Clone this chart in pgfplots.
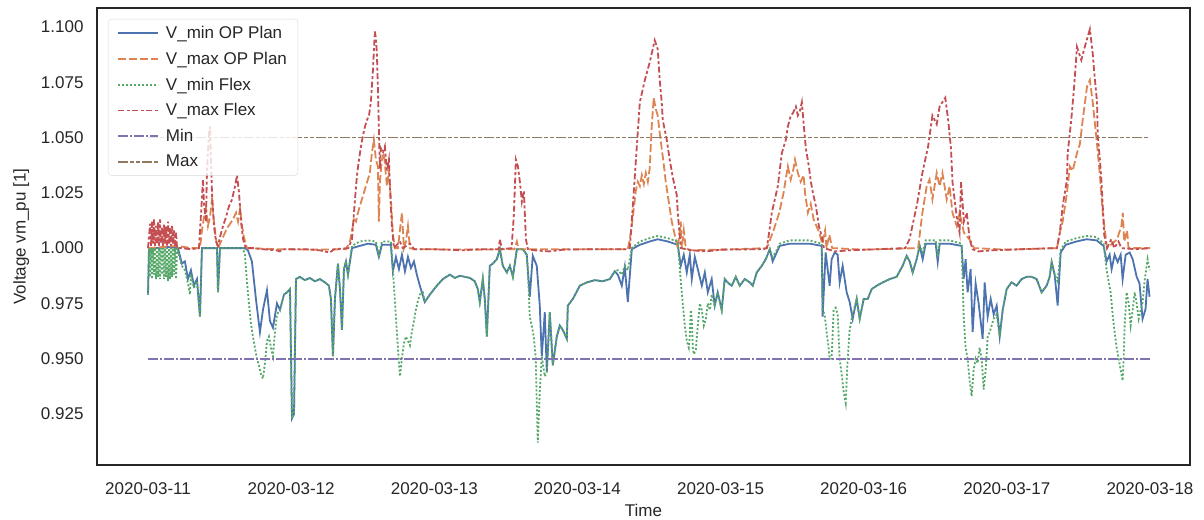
\documentclass[border=0pt]{standalone}
\usepackage{fontspec}
\setmainfont{Liberation Sans}
\usepackage{pgfplots}
\usepackage{pgfplotstable}
\pgfplotsset{compat=1.18}
\definecolor{sbblue}{HTML}{4C72B0}
\definecolor{sborange}{HTML}{DD8452}
\definecolor{sbgreen}{HTML}{55A868}
\definecolor{sbred}{HTML}{C44E52}
\definecolor{sbpurple}{HTML}{8172B3}
\definecolor{sbbrown}{HTML}{937860}
\definecolor{txt}{HTML}{262626}

\pgfplotstableread{
x y
0.000 0.979
0.007 1.000
0.070 1.000
0.140 1.0005
0.209 1.000
0.237 0.993
0.258 0.994
0.279 0.986
0.300 0.990
0.321 0.983
0.342 0.986
0.363 0.969
0.377 1.000
0.482 1.000
0.489 0.980
0.503 1.000
0.677 1.000
0.698 0.999
0.726 0.994
0.754 0.977
0.782 0.962
0.803 0.972
0.831 0.981
0.852 0.967
0.873 0.964
0.901 0.975
0.922 0.972
0.950 0.979
0.971 0.980
0.992 0.9815
1.006 0.923
1.020 0.925
1.034 0.986
1.061 0.987
1.096 0.9855
1.131 0.9865
1.166 0.985
1.201 0.986
1.236 0.9845
1.264 0.983
1.278 0.977
1.292 0.951
1.306 0.977
1.327 0.993
1.341 0.9815
1.355 0.963
1.369 0.9905
1.383 0.994
1.397 0.988
1.411 0.994
1.425 1.000
1.480 1.001
1.536 1.002
1.592 1.0015
1.613 0.996
1.634 1.0015
1.697 1.0015
1.711 0.9895
1.732 0.996
1.753 0.9905
1.774 0.997
1.795 0.9895
1.816 0.996
1.837 0.991
1.858 0.994
1.878 0.988
1.899 0.983
1.934 0.9756
1.969 0.979
2.018 0.983
2.060 0.986
2.109 0.988
2.144 0.9865
2.179 0.9875
2.214 0.987
2.249 0.9865
2.283 0.985
2.304 0.9815
2.318 0.9756
2.339 0.986
2.353 0.977
2.367 0.960
2.388 0.992
2.409 0.993
2.437 0.995
2.458 0.9995
2.479 0.992
2.507 0.989
2.528 0.992
2.549 0.987
2.577 0.9995
2.619 0.9995
2.646 0.997
2.667 0.978
2.688 0.9965
2.716 0.992
2.737 0.974
2.751 0.951
2.772 0.971
2.786 0.944
2.807 0.971
2.828 0.947
2.856 0.960
2.877 0.965
2.898 0.963
2.926 0.959
2.933 0.974
2.968 0.977
3.017 0.983
3.066 0.9845
3.122 0.9855
3.177 0.985
3.226 0.986
3.261 0.9895
3.282 0.988
3.310 0.983
3.331 0.9915
3.352 0.9756
3.380 0.9995
3.436 1.0015
3.505 1.003
3.561 1.004
3.631 1.003
3.701 1.0015
3.722 0.992
3.743 0.997
3.764 0.989
3.785 0.997
3.799 0.986
3.820 0.996
3.841 0.9905
3.869 0.983
3.890 0.989
3.911 0.980
3.938 0.986
3.959 0.974
3.980 0.980
4.008 0.972
4.029 0.986
4.057 0.984
4.078 0.983
4.106 0.987
4.134 0.983
4.169 0.986
4.204 0.9845
4.225 0.983
4.253 0.989
4.288 0.992
4.316 0.995
4.344 0.9995
4.364 0.994
4.392 0.998
4.413 1.001
4.483 1.002
4.553 1.002
4.623 1.002
4.707 1.001
4.713 0.969
4.734 0.998
4.762 0.983
4.776 0.995
4.797 0.998
4.818 0.997
4.832 0.9845
4.853 0.992
4.881 0.980
4.902 0.9756
4.923 0.968
4.951 0.977
4.972 0.968
5.000 0.977
5.028 0.977
5.056 0.9815
5.091 0.983
5.133 0.9845
5.182 0.986
5.230 0.987
5.272 0.992
5.300 0.9965
5.321 0.994
5.342 0.989
5.370 0.995
5.391 1.001
5.412 0.995
5.433 1.002
5.503 1.002
5.517 0.9937
5.531 1.002
5.600 1.002
5.684 1.001
5.698 0.986
5.712 0.995
5.726 0.980
5.747 0.9905
5.761 0.962
5.782 0.984
5.803 0.975
5.831 0.959
5.845 0.9845
5.866 0.969
5.887 0.977
5.908 0.970
5.929 0.974
5.950 0.960
5.971 0.972
5.999 0.9815
6.033 0.9845
6.068 0.983
6.103 0.986
6.138 0.987
6.173 0.987
6.208 0.986
6.243 0.980
6.278 0.983
6.299 0.987
6.313 0.9937
6.334 0.988
6.355 0.974
6.376 0.998
6.411 1.0015
6.487 1.003
6.557 1.004
6.627 1.0035
6.676 1.001
6.697 0.994
6.718 0.997
6.732 0.9905
6.753 0.997
6.774 0.9937
6.795 0.997
6.809 0.986
6.830 0.997
6.858 0.998
6.879 0.995
6.907 0.987
6.927 0.984
6.948 0.968
6.969 0.9724
6.983 0.986
6.997 0.978
}\vminop

\pgfplotstableread{
x y
0.000 1.000
0.209 1.001
0.300 1.000
0.363 1.000
0.377 1.008
0.391 1.014
0.405 1.018
0.419 1.010
0.433 1.014
0.447 1.022
0.461 1.012
0.475 1.004
0.489 1.000
0.510 1.003
0.531 1.006
0.552 1.009
0.573 1.011
0.594 1.013
0.615 1.016
0.629 1.012
0.643 1.018
0.657 1.010
0.670 1.005
0.691 1.000
0.900 0.9995
1.200 0.9993
1.383 0.9995
1.411 1.003
1.425 1.008
1.439 1.013
1.453 1.012
1.467 1.016
1.480 1.019
1.494 1.022
1.508 1.025
1.522 1.028
1.536 1.031
1.550 1.034
1.564 1.043
1.578 1.049
1.592 1.040
1.606 1.037
1.613 1.012
1.620 1.030
1.634 1.040
1.648 1.043
1.655 1.038
1.669 1.028
1.683 1.035
1.697 1.022
1.711 1.006
1.725 1.000
1.746 1.000
1.760 1.008
1.774 1.016
1.788 1.000
1.802 1.003
1.816 1.010
1.830 1.000
1.858 0.9995
2.300 0.9993
2.560 0.9995
2.577 1.003
2.590 0.9995
3.352 0.9995
3.366 1.004
3.380 1.010
3.394 1.018
3.408 1.026
3.422 1.030
3.436 1.028
3.450 1.033
3.464 1.029
3.478 1.034
3.492 1.030
3.505 1.036
3.519 1.055
3.533 1.068
3.547 1.063
3.561 1.060
3.575 1.052
3.589 1.045
3.603 1.038
3.617 1.030
3.631 1.024
3.645 1.018
3.659 1.012
3.673 1.008
3.687 1.004
3.701 1.000
3.722 1.012
3.729 1.000
3.743 1.008
3.757 1.000
3.785 0.999
4.000 0.9993
4.323 1.000
4.370 1.008
4.410 1.016
4.440 1.025
4.460 1.033
4.470 1.037
4.490 1.031
4.510 1.036
4.520 1.040
4.540 1.034
4.560 1.030
4.580 1.033
4.590 1.025
4.610 1.016
4.630 1.020
4.650 1.013
4.670 1.010
4.690 1.007
4.710 1.002
4.730 1.008
4.740 1.000
4.760 1.006
4.780 1.000
5.000 0.9993
5.380 1.000
5.410 1.016
5.440 1.028
5.460 1.031
5.480 1.022
5.510 1.034
5.530 1.028
5.550 1.034
5.580 1.022
5.600 1.028
5.620 1.016
5.650 1.010
5.670 1.016
5.700 1.007
5.750 1.003
5.770 1.000
6.000 0.9993
6.350 1.000
6.370 1.007
6.390 1.012
6.420 1.025
6.440 1.037
6.460 1.035
6.490 1.043
6.510 1.047
6.530 1.058
6.560 1.073
6.580 1.076
6.600 1.066
6.630 1.047
6.650 1.033
6.670 1.016
6.700 1.000
6.770 1.004
6.800 1.010
6.810 1.016
6.820 1.003
6.840 1.008
6.850 1.000
7.000 1.000
}\vmaxop

\pgfplotstableread{
x y
0.000 0.979
0.007 1.000
0.014 0.987
0.021 1.000
0.028 0.986
0.035 1.000
0.042 0.988
0.049 1.000
0.056 0.986
0.063 1.000
0.070 0.987
0.077 1.000
0.084 0.986
0.091 1.000
0.098 0.988
0.105 1.000
0.112 0.986
0.119 1.000
0.126 0.987
0.133 1.000
0.140 0.985
0.147 1.000
0.154 0.986
0.161 1.000
0.168 0.987
0.175 1.000
0.182 0.988
0.189 1.000
0.196 0.986
0.203 1.000
0.237 0.992
0.258 0.990
0.279 0.984
0.293 0.979
0.300 0.988
0.321 0.982
0.342 0.985
0.363 0.969
0.377 1.000
0.482 1.000
0.489 0.980
0.503 1.000
0.663 1.000
0.677 0.997
0.691 0.985
0.705 0.975
0.719 0.966
0.733 0.960
0.747 0.955
0.761 0.950
0.775 0.947
0.789 0.943
0.803 0.941
0.817 0.948
0.831 0.958
0.845 0.960
0.859 0.955
0.873 0.951
0.887 0.962
0.901 0.970
0.922 0.972
0.950 0.979
0.971 0.980
0.992 0.9815
1.006 0.923
1.020 0.925
1.034 0.986
1.061 0.987
1.096 0.9855
1.131 0.9865
1.166 0.985
1.201 0.986
1.236 0.9845
1.264 0.983
1.278 0.977
1.292 0.951
1.306 0.977
1.327 0.993
1.341 0.9815
1.355 0.963
1.369 0.9905
1.383 0.994
1.397 0.988
1.411 0.994
1.425 1.001
1.480 1.003
1.536 1.0035
1.592 1.003
1.613 0.997
1.634 1.003
1.697 1.003
1.711 0.990
1.725 0.976
1.739 0.962
1.753 0.948
1.760 0.942
1.774 0.950
1.788 0.957
1.802 0.960
1.816 0.958
1.830 0.956
1.843 0.962
1.858 0.967
1.871 0.972
1.885 0.976
1.899 0.979
1.920 0.980
1.934 0.9756
1.969 0.979
2.018 0.983
2.060 0.986
2.109 0.988
2.144 0.9865
2.179 0.9875
2.214 0.987
2.249 0.9865
2.283 0.985
2.304 0.9815
2.318 0.9756
2.339 0.986
2.353 0.977
2.367 0.960
2.388 0.992
2.409 0.993
2.437 0.995
2.458 0.9995
2.479 0.992
2.507 0.989
2.528 0.992
2.549 0.987
2.577 0.9995
2.619 0.9995
2.646 0.997
2.654 0.990
2.667 0.969
2.681 0.965
2.695 0.960
2.709 0.950
2.716 0.930
2.723 0.912
2.737 0.935
2.751 0.951
2.765 0.945
2.772 0.942
2.786 0.944
2.807 0.971
2.828 0.947
2.856 0.960
2.877 0.965
2.898 0.963
2.926 0.959
2.933 0.974
2.968 0.977
3.017 0.983
3.066 0.9845
3.122 0.9855
3.177 0.985
3.226 0.986
3.261 0.9895
3.282 0.990
3.310 0.988
3.331 0.992
3.352 0.990
3.366 0.995
3.380 1.000
3.436 1.003
3.505 1.0045
3.561 1.0055
3.631 1.0045
3.701 1.003
3.722 0.985
3.736 0.975
3.750 0.965
3.764 0.958
3.778 0.955
3.785 0.960
3.792 0.972
3.799 0.968
3.806 0.955
3.813 0.952
3.827 0.954
3.841 0.965
3.855 0.975
3.869 0.972
3.883 0.965
3.897 0.968
3.911 0.975
3.925 0.972
3.938 0.979
3.959 0.974
3.980 0.980
4.008 0.972
4.029 0.986
4.057 0.984
4.078 0.983
4.106 0.987
4.134 0.983
4.169 0.986
4.204 0.9845
4.225 0.983
4.253 0.989
4.288 0.992
4.316 0.995
4.344 0.9995
4.364 0.996
4.392 0.999
4.413 1.002
4.483 1.0035
4.553 1.0035
4.623 1.0035
4.707 1.002
4.713 0.972
4.727 0.970
4.741 0.962
4.755 0.955
4.762 0.950
4.776 0.950
4.790 0.972
4.804 0.973
4.818 0.970
4.832 0.950
4.846 0.943
4.860 0.935
4.874 0.930
4.888 0.950
4.902 0.963
4.916 0.968
4.951 0.977
4.972 0.968
5.000 0.977
5.028 0.977
5.056 0.9815
5.091 0.983
5.133 0.9845
5.182 0.986
5.230 0.987
5.272 0.992
5.300 0.9965
5.321 0.994
5.342 0.989
5.370 0.995
5.391 1.001
5.412 0.998
5.433 1.0035
5.503 1.0035
5.517 0.996
5.531 1.0035
5.600 1.0035
5.684 1.002
5.698 0.970
5.712 0.955
5.726 0.950
5.740 0.940
5.754 0.933
5.768 0.945
5.782 0.950
5.796 0.948
5.810 0.955
5.824 0.950
5.838 0.936
5.852 0.945
5.866 0.960
5.880 0.962
5.894 0.965
5.908 0.968
5.929 0.970
5.950 0.960
5.971 0.972
5.999 0.9815
6.033 0.9845
6.068 0.983
6.103 0.986
6.138 0.987
6.173 0.987
6.208 0.986
6.243 0.980
6.278 0.983
6.299 0.987
6.313 0.9937
6.334 0.988
6.355 0.985
6.376 0.999
6.411 1.003
6.487 1.0045
6.557 1.0055
6.627 1.005
6.676 1.002
6.697 0.990
6.711 0.985
6.725 0.980
6.739 0.970
6.753 0.962
6.767 0.955
6.781 0.950
6.795 0.945
6.809 0.940
6.816 0.950
6.823 0.965
6.837 0.980
6.851 0.975
6.865 0.965
6.879 0.972
6.893 0.980
6.907 0.975
6.921 0.968
6.935 0.972
6.948 0.975
6.962 0.985
6.983 0.995
6.997 0.990
}\vminflex

\pgfplotstableread{
x y
0.000 1.000
0.007 1.005
0.014 1.011
0.021 1.001
0.028 1.012
0.035 1.002
0.042 1.013
0.049 1.001
0.056 1.010
0.063 1.002
0.070 1.012
0.077 1.001
0.084 1.013
0.091 1.002
0.098 1.009
0.105 1.001
0.112 1.011
0.119 1.002
0.126 1.010
0.133 1.001
0.140 1.012
0.147 1.002
0.154 1.009
0.161 1.001
0.168 1.010
0.175 1.002
0.182 1.008
0.189 1.001
0.196 1.007
0.203 1.000
0.230 1.000
0.300 0.9995
0.356 1.000
0.370 1.015
0.384 1.031
0.391 1.020
0.405 1.012
0.412 1.035
0.426 1.052
0.433 1.055
0.440 1.040
0.447 1.025
0.461 1.010
0.475 1.003
0.489 1.001
0.503 1.005
0.524 1.010
0.545 1.014
0.566 1.019
0.587 1.022
0.608 1.028
0.622 1.033
0.636 1.025
0.650 1.012
0.664 1.004
0.684 1.000
0.740 1.000
0.800 0.9995
0.900 0.9990
0.920 0.9985
0.940 0.9995
1.100 0.9995
1.200 0.9990
1.270 0.9980
1.300 0.9995
1.400 1.000
1.425 1.004
1.432 1.010
1.446 1.022
1.460 1.033
1.474 1.040
1.488 1.046
1.502 1.051
1.516 1.055
1.530 1.058
1.544 1.060
1.557 1.066
1.571 1.080
1.578 1.089
1.585 1.098
1.592 1.095
1.599 1.088
1.606 1.073
1.613 1.054
1.620 1.036
1.627 1.045
1.641 1.043
1.655 1.046
1.662 1.040
1.669 1.035
1.683 1.040
1.690 1.028
1.697 1.018
1.704 1.010
1.718 1.000
1.760 1.003
1.780 1.000
1.830 1.002
1.860 0.9995
2.000 0.9995
2.200 0.9990
2.300 0.9995
2.450 0.9995
2.458 1.004
2.472 0.9995
2.540 1.000
2.556 1.015
2.570 1.040
2.584 1.037
2.598 1.030
2.612 1.021
2.626 1.026
2.640 1.004
2.654 0.9995
2.700 0.9990
2.800 0.9985
2.900 0.9993
3.100 0.9995
3.352 0.9995
3.366 1.000
3.387 1.019
3.415 1.046
3.436 1.066
3.471 1.076
3.505 1.084
3.540 1.094
3.561 1.090
3.575 1.076
3.589 1.066
3.596 1.058
3.624 1.049
3.645 1.040
3.666 1.032
3.694 1.024
3.701 1.016
3.722 1.000
3.800 0.9990
3.900 0.9985
4.000 0.9993
4.300 0.9995
4.323 1.000
4.337 1.006
4.358 1.016
4.379 1.022
4.400 1.028
4.428 1.043
4.456 1.049
4.470 1.055
4.491 1.060
4.505 1.061
4.526 1.064
4.540 1.060
4.554 1.062
4.568 1.066
4.582 1.055
4.596 1.045
4.617 1.037
4.631 1.030
4.645 1.025
4.666 1.019
4.687 1.010
4.708 1.005
4.722 1.000
4.800 0.9985
4.900 0.9990
5.100 0.9995
5.290 1.000
5.320 1.004
5.370 1.019
5.410 1.034
5.450 1.046
5.480 1.060
5.510 1.056
5.530 1.064
5.570 1.068
5.590 1.058
5.610 1.045
5.620 1.030
5.650 1.014
5.670 1.007
5.680 1.030
5.700 1.012
5.720 1.016
5.740 1.004
5.760 0.9995
5.800 0.9985
5.900 0.9990
6.100 0.9995
6.340 1.000
6.350 1.000
6.370 1.007
6.390 1.019
6.420 1.031
6.425 1.043
6.450 1.058
6.470 1.073
6.490 1.091
6.520 1.085
6.540 1.090
6.580 1.099
6.600 1.088
6.610 1.080
6.630 1.066
6.635 1.051
6.650 1.040
6.660 1.031
6.670 1.019
6.680 1.006
6.700 1.000
6.730 1.004
6.750 1.000
6.780 1.003
6.800 1.000
6.900 0.9995
7.000 1.000
}\vmaxflex

\begin{document}
\begin{tikzpicture}
\begin{axis}[
  width=1093bp, height=457bp, scale only axis,
  xmin=-0.3563, xmax=7.2796, ymin=0.9019, ymax=1.1086,
  axis line style={draw=txt, line width=1.6bp},
  xtick={0,1,2,3,4,5,6,7},
  xticklabels={2020-03-11,2020-03-12,2020-03-13,2020-03-14,2020-03-15,2020-03-16,2020-03-17,2020-03-18},
  ytick={0.925,0.950,0.975,1.000,1.025,1.050,1.075,1.100},
  major tick length=0pt,
  /pgf/number format/assume math mode=true,
  tick label style={font=\fontsize{17bp}{20bp}\selectfont, text=txt},
  xticklabel style={yshift=-14bp},
  yticklabel style={xshift=-10bp, /pgf/number format/fixed, /pgf/number format/fixed zerofill, /pgf/number format/precision=3},
  xlabel={Time}, ylabel={Voltage vm\_pu [1]},
  label style={font=\fontsize{17bp}{20bp}\selectfont, text=txt},
  xlabel style={yshift=-3bp},
  ylabel style={yshift=5bp},
  legend cell align=left,
  legend image code/.code={\draw[#1] (0bp,0bp) -- (40bp,0bp);},
  legend style={at={(0,1)}, anchor=north west, xshift=11bp, yshift=-11bp,
    draw=black!15, rounded corners=3bp, fill=white, fill opacity=0.8, text opacity=1, draw opacity=1,
    font=\fontsize{17bp}{20bp}\selectfont, text=txt, row sep=8bp, column sep=5bp,
    inner xsep=9bp, inner ysep=5bp},
  every axis plot/.append style={line width=1.8bp},
]
\addplot[sbblue] table[x=x,y=y] {\vminop};
\addlegendentry{V\_min OP Plan}
\addplot[sborange, dash pattern=on 8bp off 3bp] table[x=x,y=y] {\vmaxop};
\addlegendentry{V\_max OP Plan}
\addplot[sbgreen, dash pattern=on 2bp off 2bp] table[x=x,y=y] {\vminflex};
\addlegendentry{V\_min Flex}
\addplot[color=sbred, dash pattern=on 6bp off 2.5bp on 3bp off 2.5bp] table[x=x,y=y] {\vmaxflex};
\addlegendentry{V\_max Flex}
\addplot[sbpurple, dash pattern=on 10bp off 2bp on 2bp off 2bp] coordinates {(0,0.95) (7,0.95)};
\addlegendentry{Min}
\addplot[sbbrown, dash pattern=on 10bp off 2bp on 4bp off 2bp on 4bp off 2bp] coordinates {(0,1.05) (7,1.05)};
\addlegendentry{Max}
\end{axis}
\pgfresetboundingbox
\path ([xshift=-97bp,yshift=-55bp]current axis.south west) rectangle ([xshift=14bp,yshift=8bp]current axis.north east);
\end{tikzpicture}
\end{document}
